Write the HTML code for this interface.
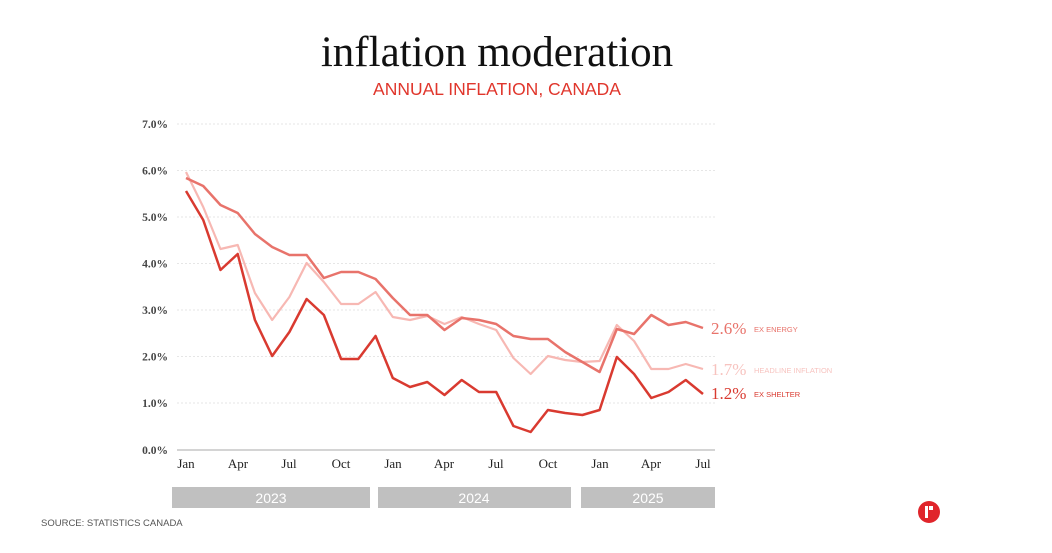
<!DOCTYPE html>
<html><head><meta charset="utf-8"><style>
body{margin:0;width:1052px;height:553px;background:#fff;overflow:hidden}
svg{display:block}
</style></head><body>
<svg width="1052" height="553" xmlns="http://www.w3.org/2000/svg">
<text x="497" y="66" text-anchor="middle" font-family="Liberation Serif, serif" font-size="43" fill="#111">inflation moderation</text>
<text x="497" y="95" text-anchor="middle" font-family="Liberation Sans, sans-serif" font-size="17.5" fill="#e0362c">ANNUAL INFLATION, CANADA</text>
<g stroke="#e6e6e6" stroke-dasharray="2,2" stroke-width="1">
<line x1="177" x2="715" y1="124" y2="124"/><line x1="177" x2="715" y1="170.5" y2="170.5"/>
<line x1="177" x2="715" y1="217" y2="217"/><line x1="177" x2="715" y1="263.5" y2="263.5"/>
<line x1="177" x2="715" y1="310" y2="310"/><line x1="177" x2="715" y1="356.5" y2="356.5"/>
<line x1="177" x2="715" y1="403" y2="403"/>
</g>
<line x1="177" x2="715" y1="450" y2="450" stroke="#aaa" stroke-width="1"/>
<g font-family="Liberation Serif, serif" font-size="11.5" font-weight="bold" fill="#444" text-anchor="end">
<text x="168" y="128">7.0%</text><text x="168" y="174.5">6.0%</text><text x="168" y="221">5.0%</text>
<text x="168" y="267.5">4.0%</text><text x="168" y="314">3.0%</text><text x="168" y="360.5">2.0%</text>
<text x="168" y="407">1.0%</text><text x="168" y="454">0.0%</text>
</g>
<g font-family="Liberation Serif, serif" font-size="13" fill="#222" text-anchor="middle">
<text x="186" y="468">Jan</text><text x="238" y="468">Apr</text><text x="289" y="468">Jul</text><text x="341" y="468">Oct</text>
<text x="393" y="468">Jan</text><text x="444" y="468">Apr</text><text x="496" y="468">Jul</text><text x="548" y="468">Oct</text>
<text x="600" y="468">Jan</text><text x="651" y="468">Apr</text><text x="703" y="468">Jul</text>
</g>
<g transform="translate(186,0) scale(17.233,1)" fill="none" stroke-linejoin="round">
<polyline vector-effect="non-scaling-stroke" stroke="#f7b8b3" stroke-width="2.2" points="0,172 1,207 2,249 3,245 4,293 5,320 6,297 7,263 8,282 9,304 10,304 11,292 12,317 13,320 14,316 15,324 16,317 17,324 18,330 19,358 20,374 21,356 22,360 23,362 24,361 25,325 26,341 27,369 28,369 29,364 30,369"/>
<polyline vector-effect="non-scaling-stroke" stroke="#e8736b" stroke-width="2.5" points="0,178 1,186 2,205 3,213 4,234 5,247 6,255 7,255 8,278 9,272 10,272 11,279 12,298 13,315 14,315 15,330 16,318 17,320 18,324 19,336 20,339 21,339 22,352 23,362 24,372 25,329 26,334 27,315 28,325 29,322 30,328"/>
<polyline vector-effect="non-scaling-stroke" stroke="#d93a30" stroke-width="2.5" points="0,191 1,220 2,270 3,254 4,320 5,356 6,332 7,299 8,315 9,359 10,359 11,336 12,378 13,387 14,382 15,395 16,380 17,392 18,392 19,426 20,432 21,410 22,413 23,415 24,410 25,357 26,374 27,398 28,392 29,380 30,394"/>
</g>
<g font-family="Liberation Serif, serif" font-size="17">
<text x="711" y="334" fill="#e8736b">2.6%</text>
<text x="711" y="375" fill="#f7c3bf">1.7%</text>
<text x="711" y="399" fill="#d93a30">1.2%</text>
</g>
<g font-family="Liberation Sans, sans-serif" font-size="7.5">
<text x="754" y="332" fill="#e8736b">EX ENERGY</text>
<text x="754" y="373" fill="#f7c3bf">HEADLINE INFLATION</text>
<text x="754" y="397" fill="#d93a30">EX SHELTER</text>
</g>
<g fill="#c0c0c0"><rect x="172" y="487" width="198" height="21"/><rect x="378" y="487" width="193" height="21"/><rect x="581" y="487" width="134" height="21"/></g>
<g font-family="Liberation Sans, sans-serif" font-size="14" fill="#fff" text-anchor="middle">
<text x="271" y="503">2023</text><text x="474" y="503">2024</text><text x="648" y="503">2025</text>
</g>
<text x="41" y="526" font-family="Liberation Sans, sans-serif" font-size="9.5" fill="#555">SOURCE: STATISTICS CANADA</text>
<circle cx="929" cy="512" r="11" fill="#e0252b"/>
<rect x="925" y="506" width="3" height="12" fill="#fff"/><rect x="929" y="506" width="4" height="4" fill="#fff"/>
</svg>
</body></html>
